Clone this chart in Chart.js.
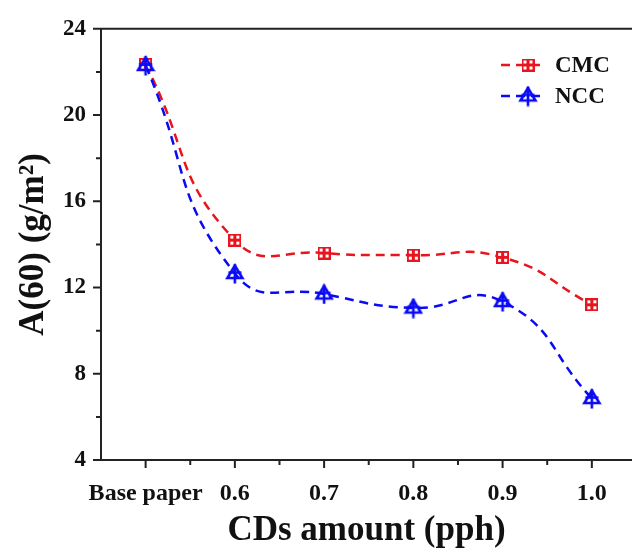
<!DOCTYPE html>
<html>
<head>
<meta charset="utf-8">
<script src="https://cdn.jsdelivr.net/npm/chart.js@4/dist/chart.umd.min.js"></script>
<style>
  html, body { margin: 0; padding: 0; background: #fff; overflow: hidden; }
  #wrap { width: 632px; height: 552px; }
</style>
</head>
<body>
<div id="wrap"><canvas id="chart" width="632" height="552"></canvas></div>
<script>
// ── Data ────────────────────────────────────────────────────────────────────
const categories = ['Base paper', '0.6', '0.7', '0.8', '0.9', '1.0']
const cmcValues  = [22.35, 14.2, 13.6, 13.5, 13.4, 11.2]
const nccValues  = [22.3, 12.65, 11.7, 11.05, 11.35, 6.85]
const yTicks     = [4, 8, 12, 16, 20, 24]

const RED  = '#e8151f'
const BLUE = '#0a0af5'
const FONT = "'Liberation Serif', 'Times New Roman', serif"

// ── Marker images ───────────────────────────────────────────────────────────
function makeSquareMarker() {
  const c = document.createElement('canvas')
  c.width = 13; c.height = 13
  const g = c.getContext('2d')
  g.fillStyle = RED
  g.fillRect(0, 0, 13, 13)
  g.fillStyle = '#fff'
  g.fillRect(2, 2, 3, 3); g.fillRect(8, 2, 3, 3)
  g.fillRect(2, 8, 3, 3); g.fillRect(8, 8, 3, 3)
  return c
}

function makeTriangleMarker() {
  const c = document.createElement('canvas')
  c.width = 20; c.height = 21
  const g = c.getContext('2d')
  g.strokeStyle = BLUE
  g.lineWidth = 2.6
  g.beginPath()
  g.moveTo(10, 2.5); g.lineTo(2.5, 15); g.lineTo(17.5, 15); g.closePath()
  g.stroke()
  g.beginPath()
  g.moveTo(10, 1); g.lineTo(10, 20.5)
  g.moveTo(3.5, 9.5); g.lineTo(16.5, 9.5)
  g.stroke()
  return c
}

const squareImg = makeSquareMarker()
const triImg = makeTriangleMarker()

const toPoints = vals => vals.map((v, i) => ({ x: i, y: v }))

// ── Ticks, top frame line, legend ──────────────────────────────────────────
const framePlugin = {
  id: 'frame',
  afterDraw(chart) {
    const { ctx, chartArea: a, scales: { x, y } } = chart
    ctx.save()
    ctx.strokeStyle = '#222'
    ctx.lineWidth = 2
    ctx.beginPath()
    ctx.moveTo(a.left - 1, a.top); ctx.lineTo(a.right, a.top)
    // y ticks: major every 4, minor in between
    for (let v = 4; v <= 24; v += 2) {
      const py = y.getPixelForValue(v)
      const len = (v % 4 === 0) ? 8 : 5
      ctx.moveTo(a.left, py); ctx.lineTo(a.left - len, py)
    }
    // x ticks: major at categories, minor halfway
    for (let i = 0; i < categories.length; i++) {
      const px = x.getPixelForValue(i)
      ctx.moveTo(px, a.bottom); ctx.lineTo(px, a.bottom + 8)
      if (i < categories.length - 1) {
        const pm = x.getPixelForValue(i + 0.5)
        ctx.moveTo(pm, a.bottom); ctx.lineTo(pm, a.bottom + 5)
      }
    }
    ctx.stroke()

    // legend
    const items = [chart.data.datasets[1], chart.data.datasets[0]]
    items.forEach((ds, k) => {
      const ly = 65 + k * 31
      ctx.strokeStyle = ds.borderColor
      ctx.lineWidth = 2.5
      ctx.setLineDash([9, 6])
      ctx.beginPath()
      ctx.moveTo(501, ly); ctx.lineTo(546, ly)
      ctx.stroke()
      ctx.setLineDash([])
      const img = ds.pointStyle
      ctx.drawImage(img, 528 - img.width / 2, ly - img.height / 2)
      ctx.fillStyle = '#111'
      ctx.font = 'bold 23px ' + FONT
      ctx.textAlign = 'left'
      ctx.textBaseline = 'middle'
      ctx.fillText(ds.label, 555, ly + 1)
    })
    ctx.restore()
  },
}

new Chart(document.getElementById('chart'), {
  type: 'line',
  data: {
    datasets: [
      {
        label: 'NCC',
        data: toPoints(nccValues),
        borderColor: BLUE,
        backgroundColor: BLUE,
        borderWidth: 2.5,
        borderDash: [9, 6],
        tension: 0.5,
        pointStyle: triImg,
        pointRadius: 8,
        order: 0,
      },
      {
        label: 'CMC',
        data: toPoints(cmcValues),
        borderColor: RED,
        backgroundColor: RED,
        borderWidth: 2.5,
        borderDash: [9, 6],
        tension: 0.5,
        pointStyle: squareImg,
        pointRadius: 6,
        order: 1,
      },
    ],
  },
  options: {
    responsive: false,
    animation: false,
    events: [],
    layout: { autoPadding: false, padding: { top: 26, right: 0, left: 0, bottom: 0 } },
    plugins: {
      legend: { display: false },
      tooltip: { enabled: false },
    },
    scales: {
      x: {
        type: 'linear',
        min: -0.5,
        max: 5.45,
        afterBuildTicks: s => { s.ticks = categories.map((c, i) => ({ value: i })) },
        afterFit: s => { s.height = 92 },
        grid: { display: false, drawTicks: false },
        border: { display: true, width: 2, color: '#222' },
        ticks: {
          autoSkip: false,
          maxRotation: 0,
          padding: 19,
          color: '#111',
          font: { family: FONT, size: 24, weight: 'bold' },
          callback: v => categories[v],
        },
        title: {
          display: true,
          text: 'CDs amount (pph)',
          color: '#111',
          font: { family: FONT, size: 35, weight: 'bold' },
          padding: { top: 0, bottom: 0 },
        },
      },
      y: {
        min: 4,
        max: 24,
        afterBuildTicks: s => { s.ticks = yTicks.map(v => ({ value: v })) },
        afterFit: s => { s.width = 101 },
        grid: { display: false, drawTicks: false },
        border: { display: true, width: 2, color: '#222' },
        ticks: {
          padding: 15,
          color: '#111',
          font: { family: FONT, size: 23, weight: 'bold' },
        },
        title: {
          display: true,
          text: 'A(60) (g/m²)',
          color: '#111',
          font: { family: FONT, size: 35, weight: 'bold' },
          padding: { top: 13, bottom: 0 },
        },
      },
    },
  },
  plugins: [framePlugin],
})
</script>
</body>
</html>
